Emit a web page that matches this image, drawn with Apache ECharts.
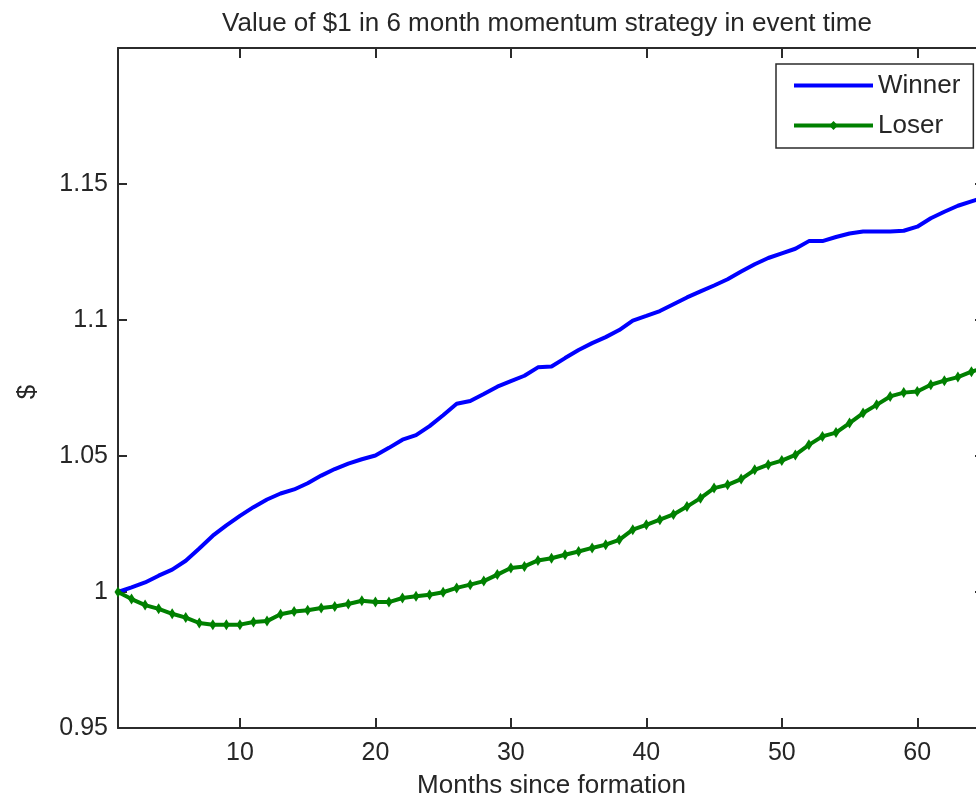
<!DOCTYPE html>
<html>
<head>
<meta charset="utf-8">
<script src="https://cdn.jsdelivr.net/npm/echarts@6/dist/echarts.min.js"></script>
<style>
html,body{margin:0;padding:0;background:#fff;overflow:hidden;width:976px;height:804px;}
#chart{width:992px;height:804px;}
</style>
</head>
<body>
<div id="chart"></div>
<script>
var months = [];
for (var i = 1; i <= 65; i++) months.push(i);

var winner = [
  1.0000, 1.0017, 1.0035, 1.0060, 1.0082, 1.0115, 1.0160, 1.0207, 1.0245, 1.0280,
  1.0312, 1.0340, 1.0362, 1.0377, 1.0400, 1.0428, 1.0452, 1.0472, 1.0488, 1.0502,
  1.0530, 1.0560, 1.0577, 1.0610, 1.0650, 1.0692, 1.0702, 1.0728, 1.0755, 1.0775,
  1.0795, 1.0826, 1.0829, 1.0860, 1.0890, 1.0915, 1.0937, 1.0963, 1.0998, 1.1015,
  1.1033, 1.1058, 1.1083, 1.1105, 1.1127, 1.1150, 1.1178, 1.1205, 1.1228, 1.1245,
  1.1262, 1.1290, 1.1290, 1.1305, 1.1318, 1.1325, 1.1325, 1.1325, 1.1328, 1.1343,
  1.1374, 1.1398, 1.1420, 1.1436, 1.1452
];

var loser = [
  1.0000, 0.9974, 0.9952, 0.9938, 0.9920, 0.9906, 0.9886, 0.9880, 0.9880, 0.9880,
  0.9890, 0.9893, 0.9918, 0.9928, 0.9933, 0.9941, 0.9947, 0.9956, 0.9968, 0.9963,
  0.9963, 0.9978, 0.9984, 0.9990, 0.9999, 1.0015, 1.0027, 1.0040, 1.0064, 1.0088,
  1.0094, 1.0116, 1.0124, 1.0137, 1.0149, 1.0162, 1.0174, 1.0192, 1.0229, 1.0247,
  1.0266, 1.0285, 1.0314, 1.0345, 1.0382, 1.0394, 1.0415, 1.0449, 1.0468, 1.0483,
  1.0504, 1.0541, 1.0572, 1.0586, 1.0621, 1.0658, 1.0688, 1.0719, 1.0733, 1.0737,
  1.0762, 1.0777, 1.0790, 1.0810, 1.0825
];

var xTicks = [10, 20, 30, 40, 50, 60];
var yTicks = [0.95, 1, 1.05, 1.1, 1.15];

var titleText = 'Value of $1 in 6 month momentum strategy in event time';
var xName = 'Months since formation';
var yName = '$';
var seriesNames = ['Winner', 'Loser'];

function pairs(xs, ys) {
  return xs.map(function (x, i) { return [x, ys[i]]; });
}

var FONT = 'Liberation Sans, Arial, Helvetica, sans-serif';
var AX = '#2b2b2b';
var TXT = '#262626';

var chart = echarts.init(document.getElementById('chart'), null, {renderer: 'canvas'});

var option = {
  backgroundColor: '#ffffff',
  animation: false,
  title: {
    text: titleText,
    left: 542,
    textAlign: 'center',
    top: 6,
    textStyle: {fontFamily: FONT, fontSize: 26, fontWeight: 'normal', color: TXT}
  },
  legend: {
    orient: 'vertical',
    left: 776,
    top: 64,
    data: [
      {name: seriesNames[0], itemStyle: {color: 'rgba(0,0,0,0)', borderWidth: 0, opacity: 0}, lineStyle: {width: 4, color: '#0000ff'}},
      {name: seriesNames[1], lineStyle: {width: 4, color: '#008000'}}
    ],
    backgroundColor: '#ffffff',
    borderColor: AX,
    borderWidth: 1.5,
    borderRadius: 0,
    padding: [8, 13, 9, 16],
    itemWidth: 79,
    itemHeight: 11,
    itemGap: 13,
    textStyle: {fontFamily: FONT, fontSize: 26, color: TXT, lineHeight: 27, padding: [0, 0, 0, 0]}
  },
  grid: {
    left: 118,
    top: 48,
    width: 867,
    height: 680.4,
    containLabel: false
  },
  xAxis: [
    {
      type: 'value',
      min: 1,
      max: 65,
      position: 'bottom',
      name: xName,
      nameLocation: 'middle',
      nameGap: 45,
      nameTextStyle: {fontFamily: FONT, fontSize: 26, color: TXT},
      axisLine: {show: true, onZero: false, lineStyle: {color: AX, width: 2}},
      axisTick: {show: true, inside: true, length: 10, customValues: xTicks, lineStyle: {color: AX, width: 2}},
      axisLabel: {show: true, customValues: xTicks, margin: 13, fontFamily: FONT, fontSize: 25, color: TXT},
      splitLine: {show: false}
    },
    {
      type: 'value',
      min: 1,
      max: 65,
      position: 'top',
      axisLine: {show: true, onZero: false, lineStyle: {color: AX, width: 2}},
      axisTick: {show: true, inside: true, length: 10, customValues: xTicks, lineStyle: {color: AX, width: 2}},
      axisLabel: {show: false},
      splitLine: {show: false}
    }
  ],
  yAxis: [
    {
      type: 'value',
      min: 0.95,
      max: 1.2,
      position: 'left',
      name: yName,
      nameLocation: 'middle',
      nameGap: 77,
      nameRotate: 90,
      nameTextStyle: {fontFamily: FONT, fontSize: 26, color: TXT, padding: [0, 8, 0, 0]},
      axisLine: {show: true, onZero: false, lineStyle: {color: AX, width: 2}},
      axisTick: {show: true, inside: true, length: 9, customValues: yTicks, lineStyle: {color: AX, width: 2}},
      axisLabel: {show: true, customValues: yTicks, margin: 10, fontFamily: FONT, fontSize: 25, color: TXT},
      splitLine: {show: false}
    },
    {
      type: 'value',
      min: 0.95,
      max: 1.2,
      position: 'right',
      axisLine: {show: true, onZero: false, lineStyle: {color: AX, width: 2}},
      axisTick: {show: true, inside: true, length: 10, customValues: yTicks, lineStyle: {color: AX, width: 2}},
      axisLabel: {show: false},
      splitLine: {show: false}
    }
  ],
  series: [
    {
      name: seriesNames[0],
      type: 'line',
      data: pairs(months, winner),
      showSymbol: false,
      symbol: 'none',
      smooth: false,
      lineStyle: {color: '#0000ff', width: 4},
      itemStyle: {color: '#0000ff'},
      z: 3
    },
    {
      name: seriesNames[1],
      type: 'line',
      data: pairs(months, loser),
      symbol: 'diamond',
      symbolSize: [7, 11],
      showSymbol: true,
      smooth: false,
      lineStyle: {color: '#008000', width: 4},
      itemStyle: {color: '#008000'},
      z: 3
    }
  ]
};

chart.setOption(option);
</script>
</body>
</html>
